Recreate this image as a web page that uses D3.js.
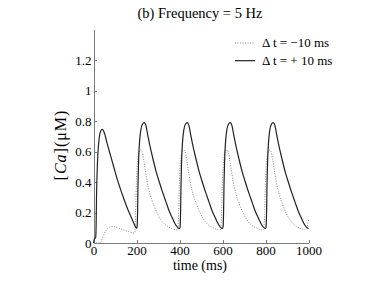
<!DOCTYPE html>
<html lang="en">

<head>
  <meta charset="UTF-8">
  <title>Frequency = 5 Hz</title>
  <script src="https://d3js.org/d3.v7.min.js"></script>
  <style>
    body {
      background-color: white;
      margin: 0;
    }

    svg {
      display: block;
      font-family: "Liberation Serif", "Times New Roman", "DejaVu Serif", serif;
    }

    .axis path,
    .axis line {
      stroke: #7a7a7a;
      shape-rendering: crispEdges;
    }

    .axis text {
      font-family: "Liberation Serif", "Times New Roman", "DejaVu Serif", serif;
      font-size: 13px;
      fill: black;
    }
  </style>
</head>

<body>
  <svg width="382" height="286"></svg>

  <script>
    // tick labels
    const xTicks = [0, 200, 400, 600, 800, 1000];
    const yTicks = [0, 0.2, 0.4, 0.6, 0.8, 1, 1.2];

    // legend
    const seriesNames = ["\u0394 t = \u221210 ms", "\u0394 t = + 10 ms"];

    // [time (ms), Ca (uM)] for dt = +10 ms (solid)
    const caPlus = [
      [0, 0], [3, 0.02], [6, 0.03], [10, 0.035], [12, 0.1], [14, 0.3], [17, 0.47], [21, 0.6], [26, 0.68],
      [32, 0.73], [40, 0.745], [47, 0.735], [55, 0.7], [65, 0.645], [79, 0.575], [95, 0.495], [110, 0.42],
      [125, 0.355], [141, 0.29], [157, 0.23], [172, 0.18], [186, 0.135], [198, 0.1], [201, 0.097],
      [203, 0.11], [205, 0.2], [207, 0.38], [210, 0.55], [214, 0.66], [220, 0.74], [228, 0.78], [236, 0.79],
      [244, 0.77], [252, 0.71], [262, 0.64], [276, 0.555], [292, 0.465], [306, 0.4], [322, 0.33],
      [337, 0.27], [352, 0.21], [368, 0.16], [382, 0.12], [396, 0.097], [401, 0.095],
      [403, 0.11], [405, 0.2], [407, 0.38], [410, 0.55], [414, 0.66], [420, 0.74], [428, 0.78], [436, 0.79],
      [444, 0.77], [452, 0.71], [462, 0.64], [476, 0.555], [492, 0.465], [506, 0.4], [522, 0.33],
      [537, 0.27], [552, 0.21], [568, 0.16], [582, 0.12], [596, 0.097], [601, 0.095],
      [603, 0.11], [605, 0.2], [607, 0.38], [610, 0.55], [614, 0.66], [620, 0.74], [628, 0.78], [636, 0.79],
      [644, 0.77], [652, 0.71], [662, 0.64], [676, 0.555], [692, 0.465], [706, 0.4], [722, 0.33],
      [737, 0.27], [752, 0.21], [768, 0.16], [782, 0.12], [796, 0.097], [801, 0.095],
      [803, 0.11], [805, 0.2], [807, 0.38], [810, 0.55], [814, 0.66], [820, 0.74], [828, 0.78], [836, 0.79],
      [844, 0.77], [852, 0.71], [862, 0.64], [876, 0.555], [892, 0.465], [906, 0.4], [922, 0.33],
      [937, 0.27], [952, 0.21], [968, 0.16], [982, 0.12], [996, 0.097], [1000, 0.095]
    ];

    // [time (ms), Ca (uM)] for dt = -10 ms (dotted)
    const caMinus = [
      [0, 0], [30, 0], [36, 0.01], [45, 0.045], [55, 0.075], [67, 0.097], [80, 0.107], [92, 0.108],
      [110, 0.1], [130, 0.09], [150, 0.08], [170, 0.072], [188, 0.065], [193, 0.07],
      [196, 0.2], [199, 0.38], [203, 0.5], [208, 0.57], [214, 0.6], [220, 0.61], [226, 0.6], [233, 0.55],
      [241, 0.48], [250, 0.4], [263, 0.32], [280, 0.25], [298, 0.19], [320, 0.14], [345, 0.108],
      [368, 0.093], [385, 0.086], [392, 0.088],
      [396, 0.2], [399, 0.38], [403, 0.5], [408, 0.57], [414, 0.6], [420, 0.61], [426, 0.6], [433, 0.55],
      [441, 0.48], [450, 0.4], [463, 0.32], [480, 0.25], [498, 0.19], [520, 0.14], [545, 0.108],
      [568, 0.093], [585, 0.086], [592, 0.088],
      [596, 0.2], [599, 0.38], [603, 0.5], [608, 0.57], [614, 0.6], [620, 0.61], [626, 0.6], [633, 0.55],
      [641, 0.48], [650, 0.4], [663, 0.32], [680, 0.25], [698, 0.19], [720, 0.14], [745, 0.108],
      [768, 0.093], [785, 0.086], [792, 0.088],
      [796, 0.2], [799, 0.38], [803, 0.5], [808, 0.57], [814, 0.6], [820, 0.61], [826, 0.6], [833, 0.55],
      [841, 0.48], [850, 0.4], [863, 0.32], [880, 0.25], [898, 0.19], [920, 0.14], [945, 0.108],
      [968, 0.093], [985, 0.086], [991, 0.095], [996, 0.12], [1000, 0.15]
    ];

    const svg = d3.select("svg");
    const margin = { left: 93, right: 74, top: 29.5, bottom: 43 };
    const width = 382 - margin.left - margin.right;
    const height = 286 - margin.top - margin.bottom;

    const x = d3.scaleLinear().domain([0, 1000]).range([0, width]);
    const y = d3.scaleLinear().domain([0, 1.4]).range([height, 0]);

    const g = svg.append("g").attr("transform", `translate(${margin.left + 0.5},${margin.top})`);

    g.append("g")
      .attr("class", "axis")
      .attr("transform", `translate(0,${height})`)
      .call(d3.axisBottom(x).tickValues(xTicks).tickFormat(d3.format("d"))
        .tickSizeInner(-3).tickSizeOuter(0).tickPadding(3));

    g.append("g")
      .attr("class", "axis")
      .call(d3.axisLeft(y).tickValues(yTicks).tickFormat(d3.format("~g"))
        .tickSizeInner(-3).tickSizeOuter(0).tickPadding(2));

    const line = d3.line()
      .x(d => x(d[0]))
      .y(d => y(d[1]))
      .curve(d3.curveMonotoneX);

    g.append("path")
      .datum(caMinus)
      .attr("fill", "none")
      .attr("stroke", "#8a8a8a")
      .attr("stroke-width", 1)
      .attr("stroke-dasharray", "1,1.5")
      .attr("d", line);

    g.append("path")
      .datum(caPlus)
      .attr("fill", "none")
      .attr("stroke", "#222")
      .attr("stroke-width", 1.2)
      .attr("d", line);

    // title and labels
    svg.append("text")
      .attr("x", 200)
      .attr("y", 18)
      .attr("text-anchor", "middle")
      .attr("font-size", "14.5px")
      .text("(b) Frequency = 5 Hz");

    svg.append("text")
      .attr("x", 200)
      .attr("y", 270)
      .attr("text-anchor", "middle")
      .attr("font-size", "14px")
      .text("time (ms)");

    const yLabel = svg.append("text")
      .attr("transform", "translate(66,145) rotate(-90)")
      .attr("text-anchor", "middle")
      .attr("font-size", "16px")
      .attr("letter-spacing", "1px");
    yLabel.append("tspan").text("[");
    yLabel.append("tspan").attr("font-style", "italic").text("Ca");
    yLabel.append("tspan").text("](\u03bcM)");

    // legend
    const legend = svg.append("g").attr("transform", "translate(235,43)");
    seriesNames.forEach((name, i) => {
      const row = legend.append("g").attr("transform", `translate(0,${i * 17.7})`);
      row.append("line")
        .attr("x1", 0).attr("x2", 20)
        .attr("stroke", i === 0 ? "#8a8a8a" : "#222")
        .attr("stroke-width", i === 0 ? 1 : 1.2)
        .attr("stroke-dasharray", i === 0 ? "1,1.5" : null);
      row.append("text")
        .attr("x", 27)
        .attr("y", 4)
        .attr("font-size", "13px")
        .text(name);
    });
  </script>
</body>

</html>
